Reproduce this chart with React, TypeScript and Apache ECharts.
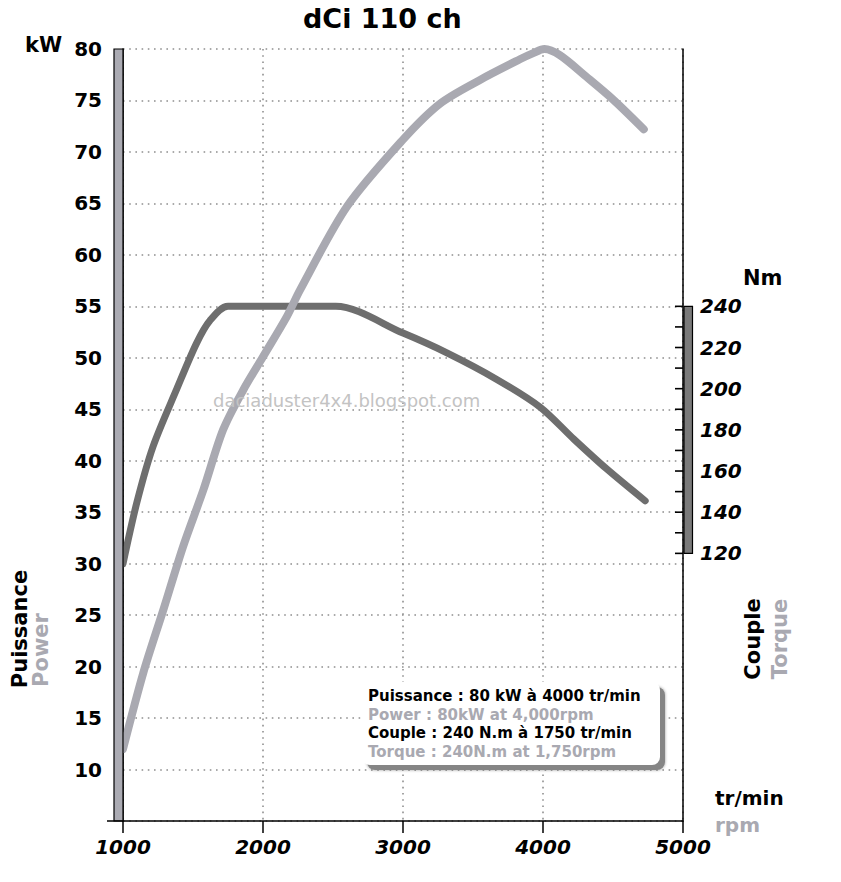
import React, { useEffect, useRef } from 'react';
import * as echarts from 'echarts';

// ---- data ----
const TITLE = 'dCi 110 ch';
const powerRpm = [1000, 1145, 1290, 1430, 1575, 1715, 1860, 2000, 2170, 2265, 2600, 3000, 3265, 3550, 3835, 3930, 4010, 4120, 4310, 4500, 4720];
const powerKw = [12, 19.4, 25.6, 31.7, 37.2, 43.0, 46.9, 50.1, 54.0, 56.6, 64.7, 71.2, 74.7, 77.0, 79.0, 79.6, 80.0, 79.4, 77.3, 75.1, 72.2];
const torqueRpm = [1000, 1100, 1215, 1385, 1525, 1620, 1750, 2520, 3000, 3310, 3670, 3980, 4220, 4455, 4730];
const torqueNm = [115, 145, 172, 200, 222, 233, 240, 240, 227, 217.5, 204.5, 191, 175.5, 161, 145.5];
const rpmRange = [1000, 5000];
const kwRange = [5, 80];
const nmRange = [-10, 365];
const nmScaleShown = [120, 240];
const legendLines = [
  'Puissance : 80 kW à 4000 tr/min',
  'Power : 80kW at 4,000rpm',
  'Couple : 240 N.m à 1750 tr/min',
  'Torque : 240N.m at 1,750rpm',
];
const WATERMARK = 'daciaduster4x4.blogspot.com';

const F = '"DejaVu Sans", "Liberation Sans", sans-serif';
const BLACK = '#000';
const LIGHT = '#a9a9b1';
const DARK = '#6e6e6e';
const dotted = { color: '#8f8f8f', width: 1.6, type: [1.6, 4.6] as number[] };

export default function App() {
  const ref = useRef<HTMLDivElement>(null);
  useEffect(() => {
    const chart = echarts.init(ref.current!, null, { renderer: 'svg' });

    const leftBar = (params: any, api: any) => {
      const top = api.coord([api.value(0), api.value(2)]);
      const bot = api.coord([api.value(0), api.value(1)]);
      return {
        type: 'group',
        children: [
          {
            type: 'rect',
            shape: { x: top[0] - 9, y: top[1], width: 9, height: bot[1] - top[1] },
            style: { fill: '#ababb3', stroke: '#000', lineWidth: 1.2 },
          },
          {
            type: 'line',
            shape: { x1: bot[0] - 16, y1: bot[1], x2: bot[0], y2: bot[1] },
            style: { stroke: '#000', lineWidth: 1.5 },
          },
        ],
      };
    };

    const rightBar = (params: any, api: any) => {
      const x = api.value(0);
      const lo = api.value(1);
      const hi = api.value(2);
      const top = api.coord([x, hi]);
      const bot = api.coord([x, lo]);
      const children: any[] = [
        {
          type: 'rect',
          shape: { x: top[0] + 1, y: top[1], width: 8.5, height: bot[1] - top[1] },
          style: { fill: '#7a7a7a', stroke: '#000', lineWidth: 1.2 },
        },
      ];
      for (let v = lo; v <= hi; v += 10) {
        const p = api.coord([x, v]);
        children.push({
          type: 'line',
          shape: { x1: p[0] - 8, y1: p[1], x2: p[0], y2: p[1] },
          style: { stroke: '#000', lineWidth: 1.6 },
        });
      }
      return { type: 'group', children };
    };

    const t = (text: string, x: number, y: number, size: number, color: string, extra: any = {}) => ({
      type: 'text',
      x,
      y,
      z: 100,
      silent: true,
      ...extra,
      style: {
        text,
        fill: color,
        font: `bold ${size}px ${F}`,
        align: 'left',
        verticalAlign: 'middle',
        ...(extra.style || {}),
      },
    });

    const option: any = {
      animation: false,
      backgroundColor: '#fff',
      grid: { left: 123, right: 158, top: 49, bottom: 61, containLabel: false, outerBoundsMode: 'none' },
      xAxis: {
        type: 'value',
        min: rpmRange[0],
        max: rpmRange[1],
        interval: 1000,
        axisLine: { show: true, onZero: false, lineStyle: { color: '#000', width: 1.5 } },
        axisTick: { show: true, inside: false, length: 12, lineStyle: { color: '#000', width: 1.5 } },
        axisLabel: {
          margin: 16,
          color: '#000',
          fontFamily: F,
          fontSize: 20,
          fontWeight: 'bold',
          fontStyle: 'italic',
          formatter: (v: number) => String(v),
        },
        splitLine: { show: true, lineStyle: dotted },
      },
      yAxis: [
        {
          type: 'value',
          min: kwRange[0],
          max: kwRange[1],
          interval: 5,
          axisLine: { show: true, onZero: false, lineStyle: { color: '#000', width: 1.5 } },
          axisTick: { show: false },
          axisLabel: {
            margin: 21,
            color: '#000',
            fontFamily: F,
            fontSize: 20,
            fontWeight: 'bold',
            formatter: (v: number) => (v === kwRange[0] ? '' : String(v)),
          },
          splitLine: { show: true, lineStyle: dotted },
        },
        {
          type: 'value',
          position: 'right',
          min: nmRange[0],
          max: nmRange[1],
          interval: 10,
          axisLine: { show: true, onZero: false, lineStyle: { color: '#000', width: 1.5 } },
          axisTick: { show: false },
          axisLabel: {
            margin: 17,
            color: '#000',
            fontFamily: F,
            fontSize: 20,
            fontWeight: 'bold',
            fontStyle: 'italic',
            showMaxLabel: false,
            formatter: (v: number) =>
              v >= nmScaleShown[0] && v <= nmScaleShown[1] && v % 20 === 0 ? String(v) : '',
          },
          splitLine: { show: false },
        },
      ],
      series: [
        {
          type: 'custom',
          name: 'leftbar',
          xAxisIndex: 0,
          yAxisIndex: 0,
          clip: false,
          silent: true,
          renderItem: leftBar,
          encode: { x: 0, y: [1, 2] },
          data: [[rpmRange[0], kwRange[0], kwRange[1]]],
          z: 5,
        },
        {
          type: 'custom',
          name: 'rightbar',
          xAxisIndex: 0,
          yAxisIndex: 1,
          clip: false,
          silent: true,
          renderItem: rightBar,
          encode: { x: 0, y: [1, 2] },
          data: [[rpmRange[1], nmScaleShown[0], nmScaleShown[1]]],
          z: 5,
        },
        {
          type: 'line',
          name: 'Couple',
          yAxisIndex: 1,
          data: torqueRpm.map((r, i) => [r, torqueNm[i]]),
          smooth: 0.3,
          showSymbol: false,
          symbol: 'none',
          clip: false,
          lineStyle: { color: DARK, width: 7, cap: 'round', join: 'round' },
          z: 3,
        },
        {
          type: 'line',
          name: 'Puissance',
          yAxisIndex: 0,
          data: powerRpm.map((r, i) => [r, powerKw[i]]),
          smooth: 0.3,
          showSymbol: false,
          symbol: 'none',
          clip: false,
          lineStyle: { color: LIGHT, width: 8, cap: 'round', join: 'round' },
          z: 4,
        },
      ],
      graphic: [
        t(TITLE, 303, 18, 27, BLACK),
        t('kW', 25, 45, 21, BLACK),
        t('Nm', 743, 278, 21, BLACK),
        t(WATERMARK, 213, 400, 18, '#c3c3c3', { style: { font: `18px ${F}` } }),
        t('Puissance', 19.5, 629, 21, BLACK, { rotation: Math.PI / 2, style: { align: 'center' } }),
        t('Power', 41, 650, 21, LIGHT, { rotation: Math.PI / 2, style: { align: 'center' } }),
        t('Couple', 753, 639, 21, BLACK, { rotation: Math.PI / 2, style: { align: 'center' } }),
        t('Torque', 780, 639, 21, LIGHT, { rotation: Math.PI / 2, style: { align: 'center' } }),
        t('tr/min', 715, 798, 20, BLACK),
        t('rpm', 715, 825, 20, LIGHT),
        {
          type: 'rect',
          z: 90,
          silent: true,
          shape: { x: 367, y: 687, width: 298, height: 83, r: 8 },
          style: { fill: '#858585', shadowBlur: 3, shadowColor: 'rgba(0,0,0,0.4)' },
        },
        {
          type: 'rect',
          z: 95,
          silent: true,
          shape: { x: 362, y: 682, width: 298, height: 83, r: 8 },
          style: { fill: '#fff' },
        },
        t(legendLines[0], 368, 696, 15, BLACK),
        t(legendLines[1], 368, 714.5, 15, LIGHT),
        t(legendLines[2], 368, 733, 15, BLACK),
        t(legendLines[3], 368, 751.5, 15, LIGHT),
      ],
    };

    chart.setOption(option);
    return () => chart.dispose();
  }, []);
  return (
    <div
      ref={ref}
      style={{ position: 'fixed', left: 0, top: 0, width: 841, height: 882, background: '#fff' }}
    />
  );
}
